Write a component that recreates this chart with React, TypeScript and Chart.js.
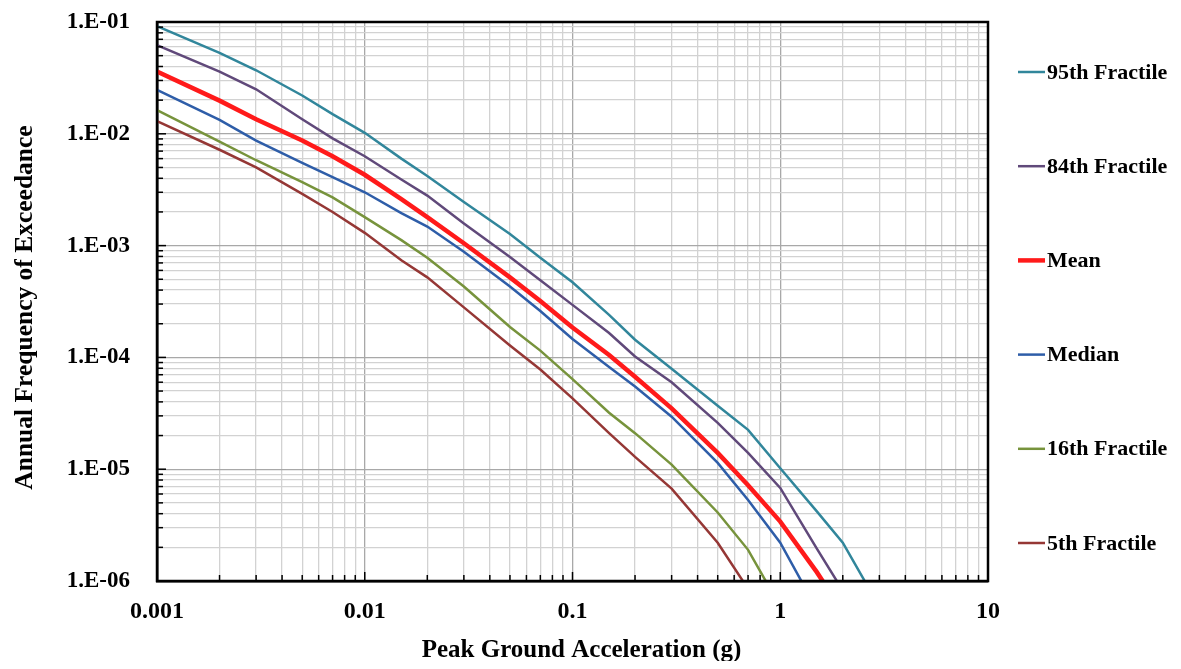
import React, { useEffect, useRef } from "react";
import { Chart, registerables } from "chart.js";

Chart.register(...registerables);

// ---- data ----
const pgaValues = [0.001, 0.002, 0.003, 0.005, 0.007, 0.01, 0.015, 0.02, 0.03, 0.05, 0.07, 0.1, 0.15, 0.2, 0.3, 0.5, 0.7, 1, 1.5, 2, 3];

const fractile95 = [0.092, 0.053, 0.037, 0.022, 0.015, 0.0102, 0.006, 0.0042, 0.00245, 0.00127, 0.00078, 0.00047, 0.00024, 0.000144, 0.000079, 0.000037, 0.0000225, 0.0000102, 0.0000042, 0.0000022, 0.00000059];
const fractile84 = [0.062, 0.036, 0.025, 0.0135, 0.0091, 0.0063, 0.0039, 0.0028, 0.00158, 0.00079, 0.00049, 0.000295, 0.000165, 0.000102, 0.00006, 0.000026, 0.000014, 0.0000068, 0.00000195, 0.00000082];
const meanHazard = [0.036, 0.0198, 0.0135, 0.0087, 0.0063, 0.0043, 0.0026, 0.0018, 0.00105, 0.00052, 0.00032, 0.000185, 0.000105, 0.000067, 0.000035, 0.000014, 0.0000072, 0.0000034, 0.0000012, 0.00000053];
const medianHazard = [0.0247, 0.0133, 0.0087, 0.0055, 0.0041, 0.003, 0.00195, 0.00148, 0.00088, 0.00043, 0.00026, 0.000146, 0.000082, 0.000055, 0.0000295, 0.0000114, 0.0000053, 0.0000022, 0.00000056];
const fractile16 = [0.0163, 0.0085, 0.0058, 0.0037, 0.0027, 0.0018, 0.00112, 0.00078, 0.00043, 0.000187, 0.000115, 0.000064, 0.000032, 0.000021, 0.000011, 0.0000041, 0.0000019, 0.00000059];
const fractile5 = [0.013, 0.0072, 0.005, 0.0029, 0.002, 0.0013, 0.00074, 0.00052, 0.00028, 0.000128, 0.000078, 0.000043, 0.000021, 0.0000129, 0.0000067, 0.0000022, 0.00000085];

const seriesLabels = ["95th Fractile", "84th Fractile", "Mean", "Median", "16th Fractile", "5th Fractile"];
const seriesValues = [fractile95, fractile84, meanHazard, medianHazard, fractile16, fractile5];
const seriesColors = ["#31869B", "#60497A", "#FF1A1A", "#2E5DA8", "#77933C", "#953735"];
const seriesWidths = [2.5, 2.5, 4.5, 2.5, 2.5, 2.5];

const xTickLabels = ["0.001", "0.01", "0.1", "1", "10"];
const yTickLabels = ["1.E-06", "1.E-05", "1.E-04", "1.E-03", "1.E-02", "1.E-01"];

const xAxisTitle = "Peak Ground Acceleration (g)";
const yAxisTitle = "Annual Frequency of Exceedance";

const FONT = '"Liberation Serif", "Times New Roman", serif';

function isPow10(v: number) {
  const e = Math.round(Math.log10(v));
  return Math.abs(v / Math.pow(10, e) - 1) < 1e-6;
}

function logTicks(min: number, max: number) {
  const out: { value: number; major: boolean }[] = [];
  const e0 = Math.round(Math.log10(min));
  const e1 = Math.round(Math.log10(max));
  for (let e = e0; e < e1; e++) {
    for (let m = 1; m <= 9; m++) {
      const v = Number((m * Math.pow(10, e)).toPrecision(6));
      out.push({ value: v, major: m === 1 });
    }
  }
  out.push({ value: max, major: true });
  return out;
}

const framePlugin = {
  id: "frameAndLegend",
  afterDraw(chart: any) {
    const { ctx, chartArea: a, scales } = chart;
    ctx.save();
    // inner tick marks
    ctx.strokeStyle = "#000";
    ctx.lineWidth = 1.5;
    scales.y.ticks.forEach((t: any) => {
      const py = scales.y.getPixelForValue(t.value);
      const len = isPow10(t.value) ? 9 : 6;
      ctx.beginPath();
      ctx.moveTo(a.left, py);
      ctx.lineTo(a.left + len, py);
      ctx.stroke();
    });
    scales.x.ticks.forEach((t: any) => {
      const px = scales.x.getPixelForValue(t.value);
      const len = isPow10(t.value) ? 9 : 6;
      ctx.beginPath();
      ctx.moveTo(px, a.bottom);
      ctx.lineTo(px, a.bottom - len);
      ctx.stroke();
    });
    // frame
    ctx.lineWidth = 2.5;
    ctx.strokeRect(a.left, a.top, a.right - a.left, a.bottom - a.top);

    // axis titles
    ctx.fillStyle = "#000";
    ctx.font = `bold 25px ${FONT}`;
    ctx.textAlign = "center";
    ctx.textBaseline = "middle";
    ctx.fillText(xAxisTitle, (a.left + a.right) / 2 + 9, a.bottom + 70);
    ctx.save();
    ctx.translate(17, (a.top + a.bottom) / 2 + 6);
    ctx.rotate(-Math.PI / 2);
    ctx.font = `bold 25.5px ${FONT}`;
    ctx.fillText(yAxisTitle, 0, 0);
    ctx.restore();

    // legend
    ctx.font = `bold 22px ${FONT}`;
    ctx.textAlign = "left";
    chart.data.datasets.forEach((ds: any, k: number) => {
      const y = a.top + 50 + k * 94.2;
      ctx.strokeStyle = ds.borderColor;
      ctx.lineWidth = ds.borderWidth;
      ctx.beginPath();
      ctx.moveTo(a.right + 30, y);
      ctx.lineTo(a.right + 57, y);
      ctx.stroke();
      ctx.fillStyle = "#000";
      ctx.fillText(ds.label, a.right + 59, y + 1);
    });
    ctx.restore();
  },
};

export default function App() {
  const canvasRef = useRef<HTMLCanvasElement | null>(null);

  useEffect(() => {
    if (!canvasRef.current) return;
    const datasets = seriesLabels.map((label, i) => ({
      label,
      data: seriesValues[i].map((y, j) => ({ x: pgaValues[j], y })),
      borderColor: seriesColors[i],
      backgroundColor: seriesColors[i],
      borderWidth: seriesWidths[i],
      pointRadius: 0,
      tension: 0,
      fill: false,
      clip: 0,
    }));

    const chart = new Chart(canvasRef.current, {
      type: "line",
      data: { datasets },
      plugins: [framePlugin],
      options: {
        animation: false,
        responsive: true,
        maintainAspectRatio: false,
        layout: { padding: { top: 14, right: 185, left: 0, bottom: 0 } },
        plugins: { legend: { display: false }, tooltip: { enabled: false } },
        scales: {
          x: {
            type: "logarithmic",
            min: 0.001,
            max: 10,
            afterBuildTicks: (scale: any) => {
              scale.ticks = logTicks(0.001, 10);
            },
            afterFit: (scale: any) => {
              scale.height = 80;
              scale.paddingLeft = 0;
              scale.paddingRight = 0;
            },
            grid: {
              drawTicks: false,
              color: (c: any) => (c.tick && isPow10(c.tick.value) ? "#a8a8a8" : "#d2d2d2"),
              lineWidth: 1.3,
            },
            border: { display: true, color: "#000", width: 2.5 },
            ticks: {
              autoSkip: false,
              maxRotation: 0,
              padding: 16,
              color: "#000",
              font: { family: FONT, size: 24, weight: "bold" },
              callback: (v: any) => {
                const val = Number(v);
                if (!isPow10(val)) return "";
                const e = Math.round(Math.log10(val));
                return xTickLabels[e + 3] ?? "";
              },
            },
          },
          y: {
            type: "logarithmic",
            min: 1e-6,
            max: 0.1,
            afterBuildTicks: (scale: any) => {
              scale.ticks = logTicks(1e-6, 0.1);
            },
            afterFit: (scale: any) => {
              scale.width = 149;
              scale.paddingTop = 0;
              scale.paddingBottom = 0;
            },
            grid: {
              drawTicks: false,
              color: (c: any) => (c.tick && isPow10(c.tick.value) ? "#a8a8a8" : "#d2d2d2"),
              lineWidth: 1.3,
            },
            border: { display: true, color: "#000", width: 2.5 },
            ticks: {
              autoSkip: false,
              padding: 27,
              color: "#000",
              font: { family: FONT, size: 23, weight: "bold" },
              callback: (v: any) => {
                const val = Number(v);
                if (!isPow10(val)) return "";
                const e = Math.round(Math.log10(val));
                return yTickLabels[e + 6] ?? "";
              },
            },
          },
        },
      } as any,
    });
    return () => chart.destroy();
  }, []);

  return (
    <div style={{ position: "relative", width: "1165px", height: "653px" }}>
      <canvas ref={canvasRef} style={{ display: "block" }} />
    </div>
  );
}
